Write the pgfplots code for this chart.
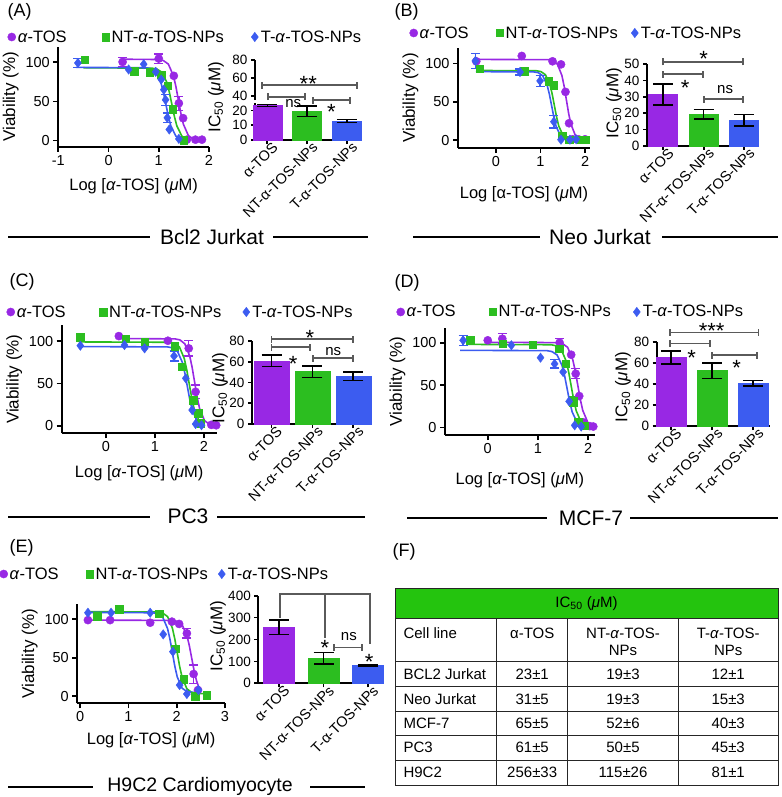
\documentclass[border=0pt]{standalone}
\usepackage{fontspec}
\setmainfont{Liberation Sans}
\usepackage{pgfplots}
\pgfplotsset{compat=1.18}

\definecolor{purp}{RGB}{152,40,228}
\definecolor{grn}{RGB}{44,190,32}
\definecolor{blu}{RGB}{60,92,240}
\definecolor{brk}{RGB}{90,90,90}
\definecolor{hdr}{RGB}{36,196,14}

\newcommand\fT{\fontsize{14.5}{16}\selectfont}
\newcommand\fTb{\fontsize{13.5}{15}\selectfont}
\newcommand\fX{\fontsize{14.5}{16}\selectfont}
\newcommand\fL{\fontsize{16.5}{18}\selectfont}
\newcommand\fY{\fontsize{17}{19}\selectfont}
\newcommand\fG{\fontsize{16.5}{18}\selectfont}
\newcommand\fH{\fontsize{21}{23}\selectfont}
\newcommand\fP{\fontsize{18}{20}\selectfont}
\newcommand\fS{\fontsize{22}{24}\selectfont}
\newcommand\fB{\fontsize{15}{17}\selectfont}
\newcommand\al{\textit{α}}
\newcommand\uM{(\textit{μ}M)}
\newcommand\gap[1]{\rule{#1pt}{0pt}}

\tikzset{bk/.style={draw=brk, line width=1.7pt}, tl/.style={draw=black!85, line width=1pt}}
% significance bracket: x1, x2, y
\newcommand\brk[3]{%
  \draw[bk] (axis cs:#1,#3) -- (axis cs:#2,#3);
  \draw[bk] ([yshift=-3.5pt]axis cs:#1,#3) -- ([yshift=3.5pt]axis cs:#1,#3);
  \draw[bk] ([yshift=-3.5pt]axis cs:#2,#3) -- ([yshift=3.5pt]axis cs:#2,#3);}
\newcommand\sig[3]{\node[font=\fS, inner sep=0pt] at (axis cs:#1,#2) {#3};}
\newcommand\ns[2]{\node[font=\fB, inner sep=0pt] at (axis cs:#1,#2) {ns};}

\pgfplotsset{
  prism/.style={scale only axis, axis lines*=left, clip=false,
    axis line style={line width=1.7pt, black},
    tick align=outside, major tick length=5pt,
    tick style={line width=1.7pt, black},
    tick label style={font=\fT},
    label style={font=\fL},
    /pgf/number format/assume math mode=true},
  dose/.style={prism, ytick={0,50,100},
    xlabel={Log [\al-TOS] \uM}, ylabel={Viability (\%)},
    ylabel style={font=\fY},
    legend columns=3,
    legend style={draw=none, fill=none, anchor=west, font=\fG,
      inner sep=0pt, column sep=0pt, nodes={inner sep=1.5pt}}},
  bars/.style={prism, ybar, bar width=29pt, ymin=0, major tick length=4pt,
    yticklabel style={font=\fTb},
    xtick={0,1,2}, xticklabels={α-TOS, NT-α-TOS-NPs, T-α-TOS-NPs},
    xticklabel style={rotate=45, anchor=north east, font=\fX, inner sep=1pt, xshift=6pt}},
  mk/.style={only marks, legend image code/.code={%
      \draw[##1] plot coordinates {(0pt,0pt)};
      \path[draw=none, fill=none] (-4.5pt,-4.5pt) rectangle (4.5pt,4.5pt);}},
  mP/.style={mk, mark=*, mark size=4.1pt, color=purp},
  mG/.style={mk, mark=square*, mark size=3.7pt, color=grn},
  mB/.style={mk, mark=diamond*, mark size=4.7pt, color=blu},
  cv/.style={forget plot, no marks, line width=1.6pt},
  ev/.style={forget plot, only marks, mark=none,
    error bars/y dir=both, error bars/y explicit,
    error bars/error bar style={line width=1.4pt},
    error bars/error mark options={rotate=90, mark size=4.5pt, line width=1.4pt}},
  be/.style={bar shift=0pt, error bars/y dir=both, error bars/y explicit,
    error bars/error bar style={draw=black, line width=1.6pt},
    error bars/error mark options={rotate=90, draw=black, mark size=10pt, line width=1.6pt}},
}

\begin{document}
\begin{tikzpicture}
\useasboundingbox (0pt,0pt) rectangle (781pt,-797pt);

% ================= (A) Bcl2 Jurkat =================
\begin{axis}[dose, at={(58.3pt,-146.7pt)}, anchor=south west, width=150.7pt, height=100pt,
  xmin=-1, xmax=2, ymin=-8, ymax=120, xtick={-1,0,1,2}, xlabel style={yshift=-6pt},
  legend style={at={(-0.340,1.097)}}]
\addplot[cv, purp] coordinates {(0.25,104) (0.99,103.6) (1.09,102.3) (1.19,97.8) (1.29,83.2) (1.34,69.4) (1.39,52) (1.44,34.6) (1.49,20.8) (1.59,6.2) (1.69,1.7) (1.79,0.4) (1.86,0.1)};
\addplot[cv, grn] coordinates {(-0.5,93) (0.86,92.6) (0.96,91.5) (1.06,87.4) (1.16,74.4) (1.21,62) (1.26,46.5) (1.31,31) (1.36,18.6) (1.46,5.6) (1.55,1.5)};
\addplot[cv, blu] coordinates {(-0.65,93.5) (0.74,93.1) (0.84,92) (0.94,87.9) (1.04,74.8) (1.09,62.4) (1.14,46.8) (1.19,31.2) (1.24,18.7) (1.34,5.6) (1.45,1)};
\addplot[ev, purp] coordinates {(0.28,100.5) +- (0,6) (1.0,104.8) +- (0,6) (1.40,47.6) +- (0,9)};
\addplot[ev, grn] coordinates {(1.28,40) +- (0,5)};
\addplot[ev, blu] coordinates {(-0.61,99.2) +- (0,6) (1.135,52) +- (0,7) (1.17,29) +- (0,6)};
\addplot[mP] coordinates {(0.28,100.5) (1.0,104.8) (1.3,82.7) (1.40,47.6) (1.485,28.5) (1.56,1) (1.73,1) (1.86,1)};
\addlegendentry{\al-TOS\gap{33}}
\addplot[mG] coordinates {(-0.48,103) (0.51,88.5) (0.82,87.5) (1.05,84) (1.18,70) (1.28,40) (1.50,0.5)};
\addlegendentry{NT-\al-TOS-NPs\gap{25}}
\addplot[mB] coordinates {(-0.61,99.2) (0.40,90.8) (0.70,97.6) (0.94,87.8) (1.05,78) (1.10,65) (1.135,52) (1.17,29) (1.21,14) (1.40,2)};
\addlegendentry{T-\al-TOS-NPs}
\end{axis}

\begin{axis}[bars, at={(255pt,-140pt)}, anchor=south west, width=107pt, height=36.7pt,
  xmin=-0.31, xmax=2.38, ymax=25, ytick={0,10,20}]
\addplot[fill=purp, draw=purp, be] coordinates {(0,23.5) +- (0,0.6)};
\addplot[fill=grn, draw=grn, be] coordinates {(1,19.5) +- (0,3.5)};
\addplot[fill=blu, draw=blu, be] coordinates {(2,13) +- (0,1)};
\brk{0.01}{0.94}{29.5}
\brk{1.14}{2.08}{27.2}
\brk{-0.14}{2.25}{37.4}
\sig{1.03}{37.9}{**}
\ns{0.65}{24.5}
\sig{1.61}{18.8}{*}
\end{axis}
\begin{axis}[prism, at={(255pt,-100.2pt)}, anchor=south west, width=107pt, height=40.2pt,
  major tick length=4pt, yticklabel style={font=\fTb},
  xmin=-0.31, xmax=2.38, ymin=35, ymax=80, ytick={40,60,80}, axis x line=none]
\end{axis}

% ================= (B) Neo Jurkat =================
\begin{axis}[dose, at={(458pt,-147.7pt)}, anchor=south west, width=132pt, height=99.4pt,
  xmin=-0.85, xmax=2.11, ymin=-10, ymax=120, xtick={0,1,2},
  xlabel={Log [α-TOS] \uM}, xlabel style={yshift=-13pt},
  legend style={at={(-0.371,1.154)}}]
\addplot[cv, purp] coordinates {(-0.45,105.5) (1.18,105.1) (1.28,103.8) (1.38,99.2) (1.48,84.4) (1.53,70.4) (1.58,52.8) (1.63,35.1) (1.68,21.1) (1.78,6.3) (1.88,1.7) (1.95,0.5)};
\addplot[cv, grn] coordinates {(-0.4,91) (0.91,90.6) (1.01,89.5) (1.11,85.5) (1.21,72.8) (1.26,60.7) (1.31,45.5) (1.36,30.3) (1.41,18.2) (1.51,5.5) (1.61,1.5) (2.0,0)};
\addplot[cv, blu] coordinates {(-0.45,89.5) (0.85,89.1) (0.95,88.1) (1.05,84.1) (1.15,71.6) (1.2,59.7) (1.25,44.8) (1.3,29.8) (1.35,17.9) (1.45,5.4) (1.55,1.4) (1.7,0.2)};
\addplot[ev, grn] coordinates {(0.65,90) +- (0,5)};
\addplot[ev, blu] coordinates {(-0.46,103.5) +- (0,10) (0.54,89) +- (0,4) (0.99,77.4) +- (0,7) (1.30,24) +- (0,8) (1.66,0.5) +- (0,3)};
\addplot[mP] coordinates {(-0.44,103) (0.58,110) (1.27,103) (1.46,99) (1.56,63) (1.64,22) (1.72,1) (1.85,1) (2.0,1)};
\addlegendentry{\al-TOS\gap{25}}
\addplot[mG] coordinates {(-0.36,93.6) (0.65,90) (1.19,77) (1.29,72) (1.49,6) (1.64,0.5) (1.9,0.5) (2.0,0.5)};
\addlegendentry{NT-\al-TOS-NPs\gap{11}}
\addplot[mB] coordinates {(-0.46,103.5) (0.54,89) (0.99,77.4) (1.30,24) (1.46,0.5) (1.66,0.5) (1.8,1)};
\addlegendentry{T-\al-TOS-NPs}
\end{axis}

\begin{axis}[bars, at={(647pt,-145.7pt)}, anchor=south west, width=111.3pt, height=81.4pt,
  xmin=-0.4, xmax=2.35, ymax=50, ytick={0,10,...,50}]
\addplot[fill=purp, draw=purp, be] coordinates {(0,31.5) +- (0,6.5)};
\addplot[fill=grn, draw=grn, be] coordinates {(1,19.3) +- (0,3)};
\addplot[fill=blu, draw=blu, be] coordinates {(2,15.6) +- (0,3.5)};
\brk{0}{1.98}{51.5}
\brk{0}{0.98}{44}
\brk{1}{1.98}{28.5}
\sig{1.0}{53.6}{*}
\sig{0.54}{35.6}{*}
\ns{1.53}{34.2}
\end{axis}

% ================= (C) PC3 =================
\begin{axis}[dose, at={(61.7pt,-433.3pt)}, anchor=south west, width=155pt, height=108.3pt,
  xmin=-0.9, xmax=2.26, ymin=-9, ymax=119, xtick={0,1,2}, xlabel style={yshift=-7pt},
  legend style={at={(-0.359,1.12)}}]
\addplot[cv, purp] coordinates {(0.25,103) (1.41,102.6) (1.51,101.4) (1.61,96.8) (1.71,82.4) (1.76,68.7) (1.81,51.5) (1.86,34.3) (1.91,20.6) (2.01,6.2) (2.11,1.6) (2.25,0.2)};
\addplot[cv, grn] coordinates {(-0.55,99) (1.3,98.6) (1.4,97.4) (1.5,93.1) (1.6,79.2) (1.65,66) (1.7,49.5) (1.75,33) (1.8,19.8) (1.9,5.9) (2.0,1.6)};
\addplot[cv, blu] coordinates {(-0.55,93.5) (1.26,93.1) (1.36,92) (1.46,87.9) (1.56,74.8) (1.61,62.4) (1.66,46.8) (1.71,31.2) (1.76,18.7) (1.86,5.6) (1.96,1.5) (2.0,1)};
\addplot[ev, purp] coordinates {(1.69,91.4) +- (0,9) (1.83,40) +- (0,8)};
\addplot[ev, blu] coordinates {(1.39,82.3) +- (0,6)};
\addplot[mP] coordinates {(0.265,105.9) (1.265,100.4) (1.69,91.4) (1.83,40) (1.91,2.8) (2.15,1) (2.25,0.5)};
\addlegendentry{\al-TOS\gap{31.5}}
\addplot[mG] coordinates {(-0.52,104.4) (0.41,103) (0.79,99) (1.40,94) (1.55,70) (1.78,30) (1.88,14.6) (1.93,3)};
\addlegendentry{NT-\al-TOS-NPs\gap{19}}
\addplot[mB] coordinates {(-0.52,94.5) (0.38,95.3) (0.79,91.4) (1.39,82.3) (1.63,56) (1.76,18.5) (1.83,2) (1.95,0.5)};
\addlegendentry{T-\al-TOS-NPs}
\end{axis}

\begin{axis}[bars, at={(252pt,-424pt)}, anchor=south west, width=116.3pt, height=83pt,
  xmin=-0.48, xmax=2.37, ymax=80, ytick={0,20,...,80}, bar width=35pt]
\addplot[fill=purp, draw=purp, be] coordinates {(0,61) +- (0,5.5)};
\addplot[fill=grn, draw=grn, be] coordinates {(1,50.5) +- (0,5.5)};
\addplot[fill=blu, draw=blu, be] coordinates {(2,46) +- (0,4)};
\brk{0}{2.0}{81.9}
\brk{0}{0.94}{73.9}
\brk{1.02}{2.0}{63.3}
\sig{0.94}{83.2}{*}
\sig{0.53}{57.8}{*}
\ns{1.51}{69.7}
\end{axis}

% ================= (D) MCF-7 =================
\begin{axis}[dose, at={(445pt,-435pt)}, anchor=south west, width=149.8pt, height=106.7pt,
  xmin=-0.85, xmax=2.13, ymin=-9, ymax=117, xtick={0,1,2}, xlabel style={yshift=-12pt},
  legend style={at={(-0.327,1.153)}}]
\addplot[cv, purp] coordinates {(0,100.5) (1.39,100.1) (1.49,98.9) (1.59,94.5) (1.69,80.4) (1.74,67) (1.79,50.3) (1.84,33.5) (1.89,20.1) (1.99,6) (2.08,1.8)};
\addplot[cv, grn] coordinates {(-0.4,98) (1.26,97.6) (1.36,96.4) (1.46,92.1) (1.56,78.4) (1.61,65.4) (1.66,49) (1.71,32.6) (1.76,19.6) (1.86,5.9) (1.96,1.6) (2.0,1)};
\addplot[cv, blu] coordinates {(-0.55,91) (1.18,90.6) (1.28,89.5) (1.38,85.5) (1.48,72.8) (1.53,60.7) (1.58,45.5) (1.63,30.3) (1.68,18.2) (1.78,5.5) (1.88,1.5)};
\addplot[ev, purp] coordinates {(0.29,104.7) +- (0,6) (1.43,100) +- (0,5) (1.75,63.4) +- (0,6)};
\addplot[ev, grn] coordinates {(1.70,30.7) +- (0,6)};
\addplot[ev, blu] coordinates {(-0.49,102.8) +- (0,6) (1.33,75) +- (0,5)};
\addplot[mP] coordinates {(0.0,102.8) (0.29,104.7) (1.43,100) (1.66,85.8) (1.75,63.4) (1.82,37) (1.90,6) (2.03,1.5) (2.1,1)};
\addlegendentry{\al-TOS\gap{31}}
\addplot[mG] coordinates {(-0.35,102.8) (0.30,98.8) (0.89,97.6) (1.42,93) (1.55,75) (1.70,30.7) (1.80,6) (1.93,2)};
\addlegendentry{NT-\al-TOS-NPs\gap{20}}
\addplot[mB] coordinates {(-0.49,102.8) (0.47,97) (1.05,82.3) (1.33,75) (1.50,65.4) (1.62,30.7) (1.73,2.4) (1.86,1)};
\addlegendentry{T-\al-TOS-NPs}
\end{axis}

\begin{axis}[bars, at={(656.7pt,-426pt)}, anchor=south west, width=113.3pt, height=84.3pt,
  xmin=-0.35, xmax=2.41, ymax=80, ytick={0,20,...,80}, bar width=30pt]
\addplot[fill=purp, draw=purp, be] coordinates {(0,65) +- (0,6)};
\addplot[fill=grn, draw=grn, be] coordinates {(1,52.5) +- (0,7.5)};
\addplot[fill=blu, draw=blu, be] coordinates {(2,40.5) +- (0,2.5)};
\brk{-0.02}{2.13}{88.8}
\brk{-0.02}{0.95}{78.4}
\brk{0.99}{2.09}{67.3}
\sig{0.99}{90}{***}
\sig{0.50}{64.7}{*}
\sig{1.60}{54.7}{*}
\end{axis}

% ================= (E) H9C2 Cardiomyocyte =================
\begin{axis}[dose, at={(77.3pt,-703.3pt)}, anchor=south west, width=147.7pt, height=99pt,
  xmin=-0.06, xmax=3, ymin=-9.5, ymax=119.6, xtick={0,1,2,3}, xlabel style={yshift=-4pt},
  legend style={at={(-0.530,1.306)}}]
\addplot[cv, purp] coordinates {(0.15,99) (1.91,98.6) (2.01,97.4) (2.11,93.1) (2.21,79.2) (2.26,66) (2.31,49.5) (2.36,33) (2.41,19.8) (2.46,11) (2.51,6)};
\addplot[cv, grn] coordinates {(0.15,110) (1.61,109.6) (1.71,108.2) (1.81,103.6) (1.91,88.6) (1.96,74.4) (2.01,56.5) (2.06,38.7) (2.11,24.8) (2.21,9.4) (2.31,4.7) (2.45,3.2) (2.62,3)};
\addplot[cv, blu] coordinates {(0.15,109) (1.51,108.6) (1.61,107.2) (1.71,102.7) (1.81,88) (1.86,74) (1.91,56.5) (1.96,39) (2.01,25) (2.11,10.3) (2.21,5.7) (2.45,4)};
\addplot[ev, purp] coordinates {(2.21,81.7) +- (0,6) (2.35,28.7) +- (0,12)};
\addplot[mP] coordinates {(0.16,99) (0.62,99) (1.45,95.6) (1.90,97) (2.05,94) (2.21,81.7) (2.35,28.7) (2.44,7.8)};
\addlegendentry{\al-TOS\gap{25}}
\addplot[mG] coordinates {(0.35,104.3) (0.81,113) (1.64,107) (1.97,62) (2.14,21.8) (2.38,0) (2.62,1.3)};
\addlegendentry{NT-\al-TOS-NPs\gap{8}}
\addplot[mB] coordinates {(0.16,108.6) (0.64,108.6) (1.45,108.6) (1.72,80.4) (1.92,57.8) (2.06,14.3) (2.21,2.6) (2.45,7.8)};
\addlegendentry{T-\al-TOS-NPs}
\end{axis}

\begin{axis}[bars, at={(258.3pt,-683.3pt)}, anchor=south west, width=124.7pt, height=87.6pt,
  xmin=-0.47, xmax=2.34, ymax=400, ytick={0,100,...,400}, bar width=31pt]
\addplot[fill=purp, draw=purp, be] coordinates {(0,256) +- (0,33)};
\addplot[fill=grn, draw=grn, be] coordinates {(1,115) +- (0,26)};
\addplot[fill=blu, draw=blu, be] coordinates {(2,81) +- (0,2)};
\draw[bk] (axis cs:0.02,300) -- (axis cs:0.02,408) -- (axis cs:2.04,408) -- (axis cs:2.04,180);
\draw[bk] (axis cs:1.03,408) -- (axis cs:1.03,205);
\brk{1.24}{1.87}{164}
\ns{1.57}{213}
\sig{1.03}{160}{*}
\sig{2.03}{98.6}{*}
\end{axis}

% ================= overlay: labels, titles, table =================
\begin{scope}[x=1pt, y=-1pt]
\node[font=\fP, anchor=west] at (4,12) {(A)};
\node[font=\fP, anchor=west] at (391,12) {(B)};
\node[font=\fP, anchor=west] at (6,282) {(C)};
\node[font=\fP, anchor=west] at (391,282.5) {(D)};
\node[font=\fP, anchor=west] at (6,547.5) {(E)};
\node[font=\fP, anchor=west] at (389,551.7) {(F)};

% IC50 axis titles of the bar charts
\node[font=\fY, rotate=90] at (216,97) {IC\textsubscript{50} \uM};
\node[font=\fY, rotate=90] at (614,103) {IC\textsubscript{50} \uM};
\node[font=\fY, rotate=90] at (220,388) {IC\textsubscript{50} \uM};
\node[font=\fY, rotate=90] at (623,387) {IC\textsubscript{50} \uM};
\node[font=\fY, rotate=90] at (218,636) {IC\textsubscript{50} \uM};

\draw[line width=2pt] (8,237) -- (150,237); \node[font=\fH] at (212,237) {Bcl2 Jurkat}; \draw[line width=2pt] (273,237) -- (368,237);
\draw[line width=2pt] (413,237) -- (540,237); \node[font=\fH] at (600,237) {Neo Jurkat}; \draw[line width=2pt] (662,237) -- (778,237);
\draw[line width=2pt] (8,516.7) -- (150,516.7); \node[font=\fH] at (188,516.7) {PC3}; \draw[line width=2pt] (217,516.7) -- (365,516.7);
\draw[line width=2pt] (407,518) -- (547,518); \node[font=\fH] at (591,518) {MCF-7}; \draw[line width=2pt] (630,518) -- (778,518);
\draw[line width=2pt] (8.3,786.7) -- (93.3,786.7); \node[font=\fontsize{19.5}{21}\selectfont] at (200,786.7) {H9C2 Cardiomyocyte}; \draw[line width=2pt] (310,786.7) -- (365,786.7);

% table (F)
\fill[hdr] (395,588.3) rectangle (778,618.3);
\draw[tl] (395,588.3) rectangle (778,785);
\foreach \yy in {618.3,661.7,686.7,711.7,735.7,760} \draw[tl] (395,\yy) -- (778,\yy);
\foreach \xx in {496.7,567.7,678.3} \draw[tl] (\xx,618.3) -- (\xx,785);
\node[font=\fB] at (586.5,603.3) {IC\textsubscript{50} \uM};
\node[font=\fB, anchor=north west] at (400,624) {Cell line};
\node[font=\fB, anchor=north] at (532.2,624) {α-TOS};
\node[font=\fB, anchor=north, align=center] at (623,624) {NT-\al-TOS-\\NPs};
\node[font=\fB, anchor=north, align=center] at (728.2,624) {T-\al-TOS-\\NPs};
\foreach \yy/\nm/\va/\vb/\vc in {674.2/BCL2 Jurkat/23±1/19±3/12±1, 699.2/Neo Jurkat/31±5/19±3/15±3,
  723.7/MCF-7/65±5/52±6/40±3, 747.8/PC3/61±5/50±5/45±3, 772.5/H9C2/256±33/115±26/81±1} {
  \node[font=\fB, anchor=west] at (400,\yy) {\nm};
  \node[font=\fB] at (532.2,\yy) {\va};
  \node[font=\fB] at (623,\yy) {\vb};
  \node[font=\fB] at (728.2,\yy) {\vc};
}
\end{scope}
\end{tikzpicture}
\end{document}
